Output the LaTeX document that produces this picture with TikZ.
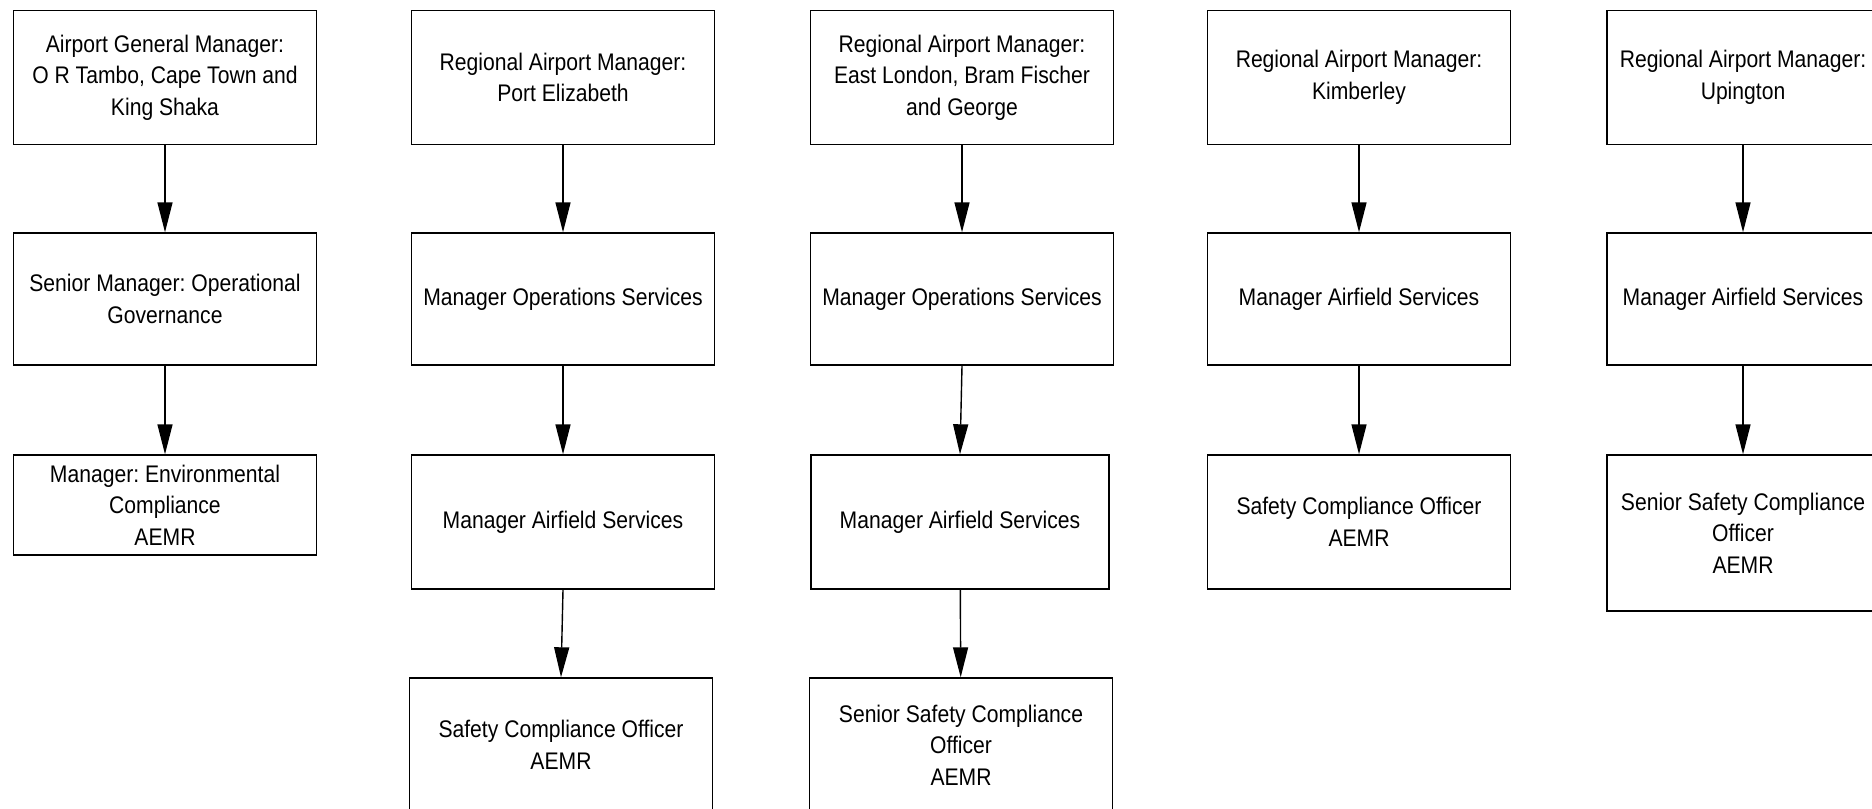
\documentclass[tikz,border=0pt]{standalone}
\usepackage{fontspec}
\setmainfont{Liberation Sans}[FakeStretch=0.88]
\usetikzlibrary{arrows.meta}
\frenchspacing

\begin{document}
\begin{tikzpicture}[x=0.5pt, y=-0.5pt, >={Triangle[length=15pt,width=7.5pt]},
    orgbox/.style={draw, line width=0.7pt, minimum width=151.5pt, minimum height=#1,
      align=center, inner sep=2pt, font=\fontsize{12}{15.8}\selectfont},
    orgbox/.default=67pt,
    link/.style={->, line width=0.7pt}]
    \useasboundingbox (0,0) rectangle (1872,808);
    \clip (0,0) rectangle (1872,808);
    % column 1
    \node[orgbox] (gm) at (165,77.5) {Airport General Manager:\\O R Tambo, Cape Town and\\King Shaka};
    \node[orgbox=66pt] (smog) at (165,299) {Senior Manager: Operational\\Governance};
    \node[orgbox=50pt] (mec) at (165,505) {Manager: Environmental\\Compliance\\AEMR};
    % column 2
    \node[orgbox] (rpe) at (563,77.5) {Regional Airport Manager:\\Port Elizabeth};
    \node[orgbox=66pt] (mospe) at (563,299) {Manager Operations Services};
    \node[orgbox] (mafpe) at (563,522) {Manager Airfield Services};
    \node[orgbox] (scope) at (561,745) {Safety Compliance Officer\\AEMR};
    % column 3
    \node[orgbox] (rel) at (962,77.5) {Regional Airport Manager:\\East London, Bram Fischer\\and George};
    \node[orgbox=66pt] (mosel) at (962,299) {Manager Operations Services};
    \node[orgbox, minimum width=149pt] (mafel) at (960,522) {Manager Airfield Services};
    \node[orgbox] (sscel) at (961,745) {Senior Safety Compliance\\Officer\\AEMR};
    % column 4
    \node[orgbox] (rki) at (1359,77.5) {Regional Airport Manager:\\Kimberley};
    \node[orgbox=66pt] (mafki) at (1359,299) {Manager Airfield Services};
    \node[orgbox] (scoki) at (1359,522) {Safety Compliance Officer\\AEMR};
    % column 5 (runs off the right edge)
    \tikzset{orgbox/.append style={minimum width=136pt}}
    \node[orgbox] (rup) at (1743,77.5) {Regional Airport Manager:\\Upington};
    \node[orgbox=66pt] (mafup) at (1743,299) {Manager Airfield Services};
    \node[orgbox=78pt] (sscup) at (1743,533) {Senior Safety Compliance\\Officer\\AEMR};
    % links
    \draw[link] (gm) -- (smog);
    \draw[link] (smog) -- (mec);
    \draw[link] (rpe) -- (mospe);
    \draw[link] (mospe) -- (mafpe);
    \draw[link] (mafpe.south) -- (scope.north);
    \draw[link] (rel) -- (mosel);
    \draw[link] (mosel.south) -- (mafel.north);
    \draw[link] (mafel) -- (sscel);
    \draw[link] (rki) -- (mafki);
    \draw[link] (mafki) -- (scoki);
    \draw[link] (rup) -- (mafup);
    \draw[link] (mafup) -- (sscup);
\end{tikzpicture}
\end{document}
